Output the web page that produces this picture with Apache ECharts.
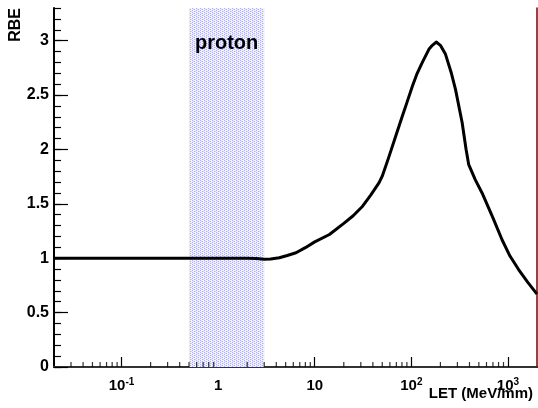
<!DOCTYPE html>
<html>
<head>
<meta charset="utf-8">
<script src="https://cdn.jsdelivr.net/npm/echarts@6/dist/echarts.min.js"></script>
<style>
  html, body { margin: 0; padding: 0; background: #fff; }
  #chart { width: 538px; height: 408px; }
</style>
</head>
<body>
<div id="chart"></div>
<script>
// RBE as a function of LET
const letValues = [0.02, 0.1, 0.5, 1, 2, 2.5, 3, 3.5, 4.3, 5.2, 6.4, 8, 10, 14.2, 20, 25, 31.3, 38, 46.4, 50,
  58, 69, 80, 90, 102.5, 115, 130, 152, 165, 181, 200, 226, 260, 287, 336, 369, 393,
  460, 540, 700, 867, 1050, 1290, 1600, 2000];
const rbeValues = [1.0, 1.0, 1.0, 1.0, 1.0, 0.998, 0.99, 0.992, 1.004, 1.025, 1.05, 1.097, 1.15, 1.218, 1.32, 1.39, 1.478, 1.58, 1.694, 1.754,
  1.92, 2.124, 2.295, 2.43, 2.58, 2.70, 2.80, 2.92, 2.957, 2.987, 2.957, 2.874, 2.70, 2.55, 2.245, 2.0, 1.86,
  1.72, 1.60, 1.37, 1.172, 1.02, 0.896, 0.78, 0.67];

// proton LET band
const protonBand = [0.5, 3];
const protonLabel = 'proton';

// axis ranges and tick positions
const xRange = [0.02, 2000];
const yRange = [0, 3.3];
const xMinorTicks = [0.03, 0.04, 0.05, 0.06, 0.07, 0.08, 0.09,
  0.2, 0.3, 0.4, 0.5, 0.6, 0.7, 0.8, 0.9,
  2, 3, 4, 5, 6, 7, 8, 9,
  20, 30, 40, 50, 60, 70, 80, 90,
  200, 300, 400, 500, 600, 700, 800, 900];

const FONT = "'Liberation Sans', Arial, Helvetica, sans-serif";

// dotted fill for the band
function dotPattern() {
  const c = document.createElement('canvas');
  c.width = 4; c.height = 4;
  const g = c.getContext('2d');
  g.fillStyle = 'rgb(242,242,253)';
  g.fillRect(0, 0, 4, 4);
  g.fillStyle = 'rgb(175,175,240)';
  g.fillRect(0, 0, 1, 1);
  g.fillRect(2, 1, 1, 1);
  g.fillRect(0, 2, 1, 1);
  g.fillRect(2, 3, 1, 1);
  g.fillStyle = 'rgb(215,215,248)';
  g.fillRect(1, 1, 1, 1);
  g.fillRect(3, 3, 1, 1);
  return c;
}

const chart = echarts.init(document.getElementById('chart'), null, { renderer: 'canvas' });

function xLabel(v) {
  const lg = Math.log10(v);
  const e = Math.round(lg);
  if (Math.abs(lg - e) > 1e-6) return '';
  if (e === 0) return '{b|1}';
  if (e === 1) return '{b|10}';
  return '{b|10}{s|' + e + '}';
}

chart.setOption({
  animation: false,
  backgroundColor: '#fff',
  grid: { left: 54, right: 1, top: 8, bottom: 41, containLabel: false },
  xAxis: [{
    type: 'log', logBase: 10, min: xRange[0], max: xRange[1], splitNumber: 5,
    position: 'bottom',
    axisLine: { show: true, lineStyle: { color: '#000', width: 2 } },
    axisTick: { show: true, inside: true, length: 10, lineStyle: { color: '#000', width: 1.2 } },
    splitLine: { show: false },
    axisLabel: {
      show: true, margin: 10, showMinLabel: false, showMaxLabel: false,
      formatter: xLabel,
      rich: {
        b: { fontFamily: FONT, fontWeight: 'bold', fontSize: 15, color: '#000', lineHeight: 18 },
        s: { fontFamily: FONT, fontWeight: 'bold', fontSize: 10, color: '#000', lineHeight: 10, verticalAlign: 'top' }
      }
    }
  }, {
    type: 'log', logBase: 10, min: xRange[0], max: xRange[1], position: 'top',
    axisLine: { show: true, lineStyle: { color: '#333', width: 2 } },
    axisTick: { show: false }, axisLabel: { show: false }, splitLine: { show: false }
  }],
  yAxis: [{
    type: 'value', min: yRange[0], max: yRange[1], interval: 0.5, position: 'left',
    axisLine: { show: true, lineStyle: { color: '#000', width: 2 } },
    axisTick: { show: true, inside: true, length: 14, lineStyle: { color: '#000', width: 1.2 } },
    splitLine: { show: false },
    axisLabel: {
      show: true, margin: 5, showMaxLabel: false,
      fontFamily: FONT, fontWeight: 'bold', fontSize: 16, color: '#000',
      formatter: function (v) {
        const r = Math.round(v * 2) / 2;
        return Math.abs(v - r) < 1e-6 ? String(r) : '';
      }
    }
  }, {
    type: 'value', min: yRange[0], max: yRange[1], interval: 0.1, position: 'left',
    axisLine: { show: false },
    axisTick: { show: true, inside: true, length: 7, lineStyle: { color: '#000', width: 1.2 } },
    axisLabel: { show: false }, splitLine: { show: false }
  }, {
    type: 'value', min: yRange[0], max: yRange[1], position: 'right',
    axisLine: { show: true, onZero: false, lineStyle: { color: '#7a0000', width: 1.5 } },
    axisTick: { show: false }, axisLabel: { show: false }, splitLine: { show: false }
  }],
  series: [{
    // shaded band
    type: 'line', data: [], z: 1, silent: true,
    markArea: {
      silent: true,
      itemStyle: { color: { image: dotPattern(), repeat: 'repeat' } },
      label: {
        show: true, position: 'insideTop', distance: 25,
        formatter: protonLabel,
        fontFamily: FONT, fontWeight: 'bold', fontSize: 20, color: '#000'
      },
      data: [[{ xAxis: protonBand[0] }, { xAxis: protonBand[1] }]]
    }
  }, {
    type: 'line', z: 5, silent: true,
    data: letValues.map((x, i) => [x, rbeValues[i]]),
    showSymbol: false, symbol: 'none',
    lineStyle: { color: '#000', width: 3, join: 'round' },
    clip: true
  }, {
    // minor x ticks
    type: 'scatter', z: 6, silent: true, clip: false,
    data: xMinorTicks.map(x => [x, 0]),
    symbol: 'rect', symbolSize: [1.2, 5], symbolOffset: [0, -2.5],
    itemStyle: { color: '#000' }
  }],
  graphic: [{
    type: 'text', x: 16, y: 8, rotation: Math.PI / 2,
    style: { text: 'RBE', font: 'bold 16px ' + FONT, fill: '#000', textAlign: 'right', textVerticalAlign: 'middle' }
  }, {
    type: 'text', x: 533, y: 394,
    style: { text: 'LET (MeV/mm)', font: 'bold 15px ' + FONT, fill: '#000', textAlign: 'right', textVerticalAlign: 'middle' }
  }]
});
</script>
</body>
</html>
